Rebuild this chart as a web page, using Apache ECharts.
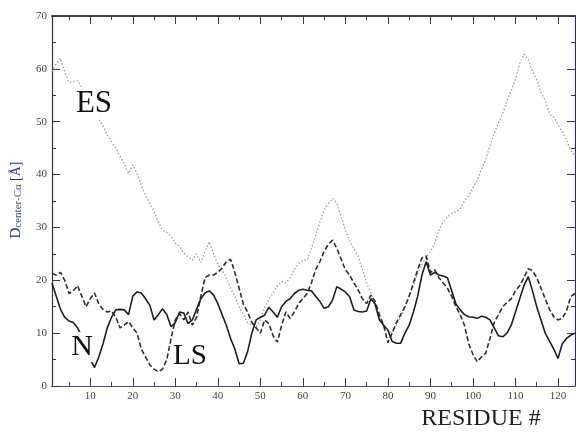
<!DOCTYPE html>
<html>
<head>
<meta charset="utf-8">
<script src="https://cdn.jsdelivr.net/npm/echarts@6/dist/echarts.min.js"></script>
<style>
  html, body { margin: 0; padding: 0; background: #fff; }
  #chart { width: 576px; height: 433px; }
</style>
</head>
<body>
<div id="chart"></div>
<script>
// Distance from the molecular centre to each residue's C-alpha, for three states.
const firstResidue = 1;
const lastResidue = 124;

// Extended state (light dotted trace)
const esValues = [
  59.5, 61, 62, 59.4, 57.5, 57.5, 57.8, 56.5, 55, 53.5,
  52, 50.5, 49.2, 47.5, 46.2, 45, 43.5, 42, 40.2, 41.8,
  40.2, 38, 36, 34.5, 33, 31, 29.5, 29, 28.3, 27,
  26.5, 25.2, 24.4, 23.8, 25, 23.3, 25.5, 27.3, 25, 23,
  21.9, 20.5, 18.5, 17, 15, 13.5, 12, 11.5, 11.2, 12.5,
  14.8, 16.5, 17.6, 19, 19.8, 19.5, 20.5, 22, 23.2, 23.8,
  23.8, 26, 28.5, 31, 33.3, 34.5, 35.5, 34.5, 32, 29.5,
  27.5, 26, 24.5, 22, 19.5, 17.5, 15, 13, 11.3, 10.5,
  10, 11.5, 13, 14.8, 17, 19, 21.3, 23, 24.4, 25.4,
  27, 29.5, 31, 32, 32.6, 33, 33.5, 35, 36, 37.5,
  39, 41, 42.8, 45.5, 47.8, 49.8, 51.5, 54, 55.8, 58,
  61, 62.8, 61.8, 59.5, 58, 55.5, 54, 51.5, 50.8, 49.5,
  48, 46.5, 44.6, 43.5
];

// Loosely packed state (dashed trace)
const lsValues = [
  21.3, 21, 21.5, 20, 17.5, 18, 19, 17, 15, 16.5,
  17.6, 15.5, 14.5, 14, 14.2, 13, 11, 11.5, 12.2, 11,
  10, 7, 5.5, 4, 3.2, 2.7, 3.2, 5, 9, 12.5,
  13.7, 12.5, 14, 11.5, 13, 17, 20.5, 21, 21, 21.5,
  22.3, 23.5, 24, 21.5, 18.5, 15.5, 14, 12, 11, 10,
  12.5, 11.8, 9.5, 8.3, 11.5, 14, 12.8, 14, 15.6, 16.5,
  17.5, 19.5, 22, 23.5, 25.5, 26.8, 27.6, 26, 24, 22,
  21, 19.5, 18.2, 16.5, 15.6, 17.2, 16, 13.5, 11.5, 8.2,
  10, 12, 13.5, 15, 17, 19.5, 22, 24.2, 24.6, 21.5,
  22, 20.5, 19.5, 18.5, 17, 15, 13.5, 11.5, 8, 6,
  4.6, 5.5, 6.2, 9, 12, 13.5, 15, 15.8, 16.5, 18,
  19, 20.5, 22.2, 21.8, 20.5, 18.5, 16.5, 14.5, 13.1, 12.5,
  12.8, 14.2, 16.9, 17.5
];

// Native state (solid trace)
const nValues = [
  19.5, 17, 14.5, 13, 12.3, 12, 11, 9.5, 7, 5,
  3.5, 5.5, 8, 11, 13, 14.4, 14.5, 14.4, 13.5, 17,
  17.8, 17.6, 16.5, 15.3, 12.5, 13.5, 14.6, 13.5, 11.2, 12,
  14, 13.8, 11.8, 12.5, 14.5, 16.5, 17.6, 18, 17.2, 15.6,
  13.5, 11.5, 9, 7, 4.2, 4.3, 6.5, 10, 12.5, 13,
  13.4, 14.9, 14, 13, 15, 16, 16.5, 17.5, 18.1, 18.3,
  18.1, 18, 17, 16, 14.7, 15, 16.3, 18.8, 18.3, 17.8,
  16.9, 14.4, 14.1, 14, 14.2, 16.5, 15.5, 12.5, 11.5, 10.6,
  8.4, 8.1, 8.1, 10, 11.5, 14, 17, 21, 23.5, 21,
  21.5, 21, 20.8, 20.5, 18, 15.5, 14.4, 13.5, 13.1, 13,
  12.8, 13.2, 13, 12.5, 11, 9.5, 9.3, 10, 11.5, 14,
  16.5, 19, 20.7, 18, 15, 12.5, 10, 8.5, 7, 5.2,
  8, 9, 9.6, 10
];

// Tick positions
const xMajorTicks = [10, 20, 30, 40, 50, 60, 70, 80, 90, 100, 110, 120];
const xMinorTicks = [5, 15, 25, 35, 45, 55, 65, 75, 85, 95, 105, 115];
const yMin = 0, yMax = 70, yStep = 10;

const toPairs = vals => vals.map((v, i) => [firstResidue + i, v]);

const serif = 'Liberation Serif, Times New Roman, serif';
const axisColor = '#2e3352';
const tickColor = '#3a3a3a';

function xAxisDef(position, ticks, len, labels) {
  return {
    type: 'value', position: position, min: firstResidue, max: lastResidue,
    axisLine: {
      show: true, onZero: false,
      lineStyle: { color: position === 'bottom' ? '#4b4b8c' : axisColor, width: position === 'bottom' ? 1 : 1.5 }
    },
    axisTick: { show: true, inside: true, length: len, customValues: ticks, lineStyle: { color: tickColor } },
    axisLabel: labels
      ? { show: true, customValues: ticks, margin: 5, fontFamily: serif, fontSize: 11, color: '#444' }
      : { show: false },
    splitLine: { show: false }
  };
}

function yAxisDef(position, labels) {
  return {
    type: 'value', position: position, min: yMin, max: yMax, interval: yStep,
    axisLine: { show: true, onZero: false, lineStyle: { color: axisColor, width: 1.2 } },
    axisTick: { show: true, inside: true, length: 8, lineStyle: { color: tickColor } },
    minorTick: { show: true, splitNumber: 2, length: 4, lineStyle: { color: tickColor } },
    axisLabel: labels
      ? { show: true, margin: 5, fontFamily: serif, fontSize: 11, color: '#444' }
      : { show: false },
    splitLine: { show: false }
  };
}

const chart = echarts.init(document.getElementById('chart'), null, { renderer: 'canvas' });

chart.setOption({
  backgroundColor: '#ffffff',
  animation: false,
  grid: { left: 52, right: 1, top: 16, bottom: 47, containLabel: false },
  xAxis: [
    xAxisDef('bottom', xMajorTicks, 8, true),
    xAxisDef('bottom', xMinorTicks, 4, false),
    xAxisDef('top', xMajorTicks, 8, false),
    xAxisDef('top', xMinorTicks, 4, false)
  ],
  yAxis: [
    yAxisDef('left', true),
    yAxisDef('right', false)
  ],
  series: [
    {
      name: 'ES', type: 'line', data: toPairs(esValues), showSymbol: false,
      lineStyle: { color: '#9a9a9a', width: 1.3, type: [1.5, 2] }, z: 2
    },
    {
      name: 'LS', type: 'line', data: toPairs(lsValues), showSymbol: false,
      lineStyle: { color: '#2e2e2e', width: 1.6, type: [5, 2.5] }, z: 3
    },
    {
      name: 'N', type: 'line', data: toPairs(nValues), showSymbol: false,
      lineStyle: { color: '#1e1e1e', width: 1.6 }, z: 4
    }
  ],
  graphic: [
    {
      type: 'text', x: 16, y: 200, rotation: Math.PI / 2, z: 10,
      style: {
        text: '{d|D}{s|center-Cα} {b|[Å]}',
        align: 'center', verticalAlign: 'middle',
        rich: {
          d: { fontFamily: serif, fontSize: 15, fill: '#1f2a66' },
          s: { fontFamily: serif, fontSize: 11, fill: '#4a4f70', verticalAlign: 'bottom', padding: [5, 0, 0, 0] },
          b: { fontFamily: serif, fontSize: 14, fill: '#1f2a8a' }
        }
      }
    },
    {
      type: 'text', x: 94, y: 104, z: 10,
      style: { text: 'ES', font: '31px ' + serif, fill: '#111', align: 'center', verticalAlign: 'middle', backgroundColor: '#fff' }
    },
    {
      type: 'text', x: 82, y: 347, z: 10,
      style: { text: 'N', font: '30px ' + serif, fill: '#111', align: 'center', verticalAlign: 'middle', backgroundColor: '#fff' }
    },
    {
      type: 'text', x: 190, y: 356, z: 10,
      style: { text: 'LS', font: '29px ' + serif, fill: '#111', align: 'center', verticalAlign: 'middle', backgroundColor: '#fff' }
    },
    {
      type: 'text', x: 481, y: 419, z: 10,
      style: { text: 'RESIDUE #', font: '24px ' + serif, fill: '#222', align: 'center', verticalAlign: 'middle' }
    }
  ]
});
</script>
</body>
</html>
